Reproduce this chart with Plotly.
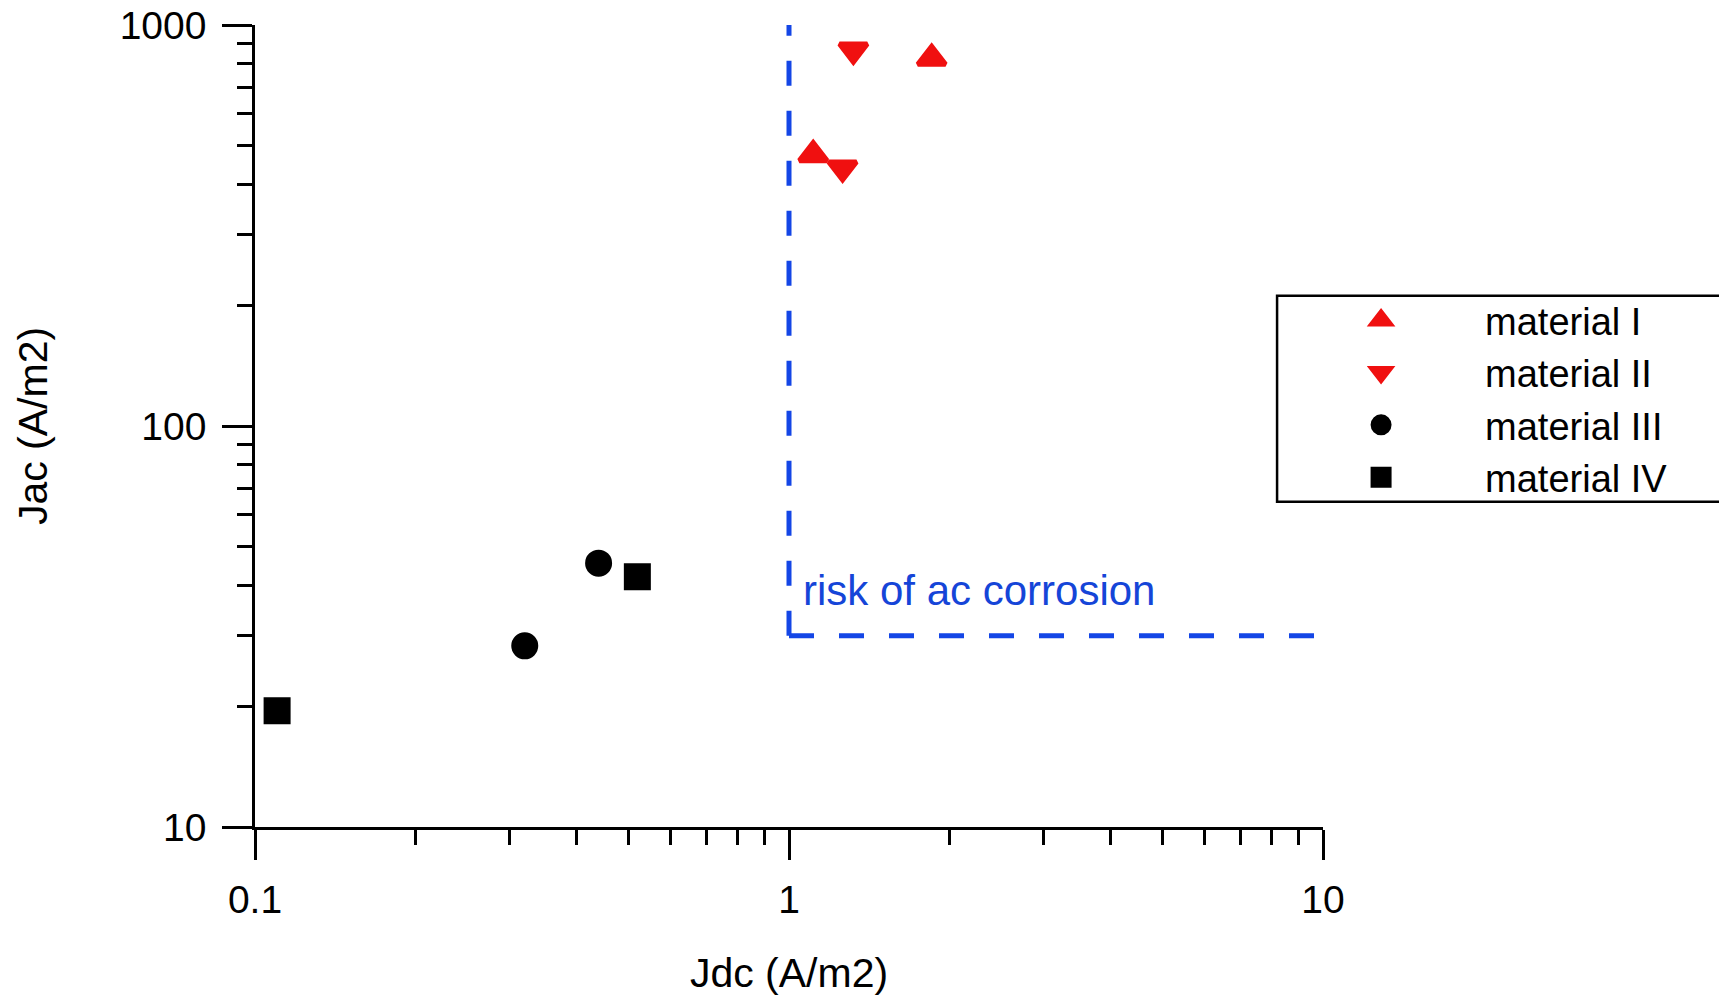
import plotly.graph_objects as go

# ---- data ----
mat1_jdc = [1.11, 1.85]
mat1_jac = [475, 826]
mat2_jdc = [1.32, 1.26]
mat2_jac = [866, 440]
mat3_jdc = [0.32, 0.44]
mat3_jac = [28.3, 45.5]
mat4_jdc = [0.11, 0.52]
mat4_jac = [19.5, 42.1]

risk_v_jdc = [1, 1]
risk_v_jac = [30, 1000]
risk_h_jdc = [1, 10]
risk_h_jac = [30, 30]

x_major = [0.1, 1, 10]
x_major_text = ["0.1", "1", "10"]
x_minor = [0.2, 0.3, 0.4, 0.5, 0.6, 0.7, 0.8, 0.9, 2, 3, 4, 5, 6, 7, 8, 9]
y_major = [10, 100, 1000]
y_major_text = ["10", "100", "1000"]
y_minor = [20, 30, 40, 50, 60, 70, 80, 90, 200, 300, 400, 500, 600, 700, 800, 900]

RED = "#f01010"
BLACK = "#000000"
BLUE = "#1446e6"
FONT = "Liberation Sans, Arial, sans-serif"

fig = go.Figure()

dash_style = dict(color=BLUE, width=5, dash="25px,25px")
fig.add_trace(go.Scatter(x=risk_v_jdc, y=risk_v_jac, mode="lines", line=dash_style,
                         showlegend=False, hoverinfo="skip"))
fig.add_trace(go.Scatter(x=risk_h_jdc, y=risk_h_jac, mode="lines", line=dash_style,
                         showlegend=False, hoverinfo="skip"))

def add_series(x, y, name, symbol, color, size):
    fig.add_trace(go.Scatter(
        x=x, y=y, mode="markers", name=name,
        marker=dict(symbol=symbol, color=color, size=size,
                    line=dict(color=color, width=5)),
    ))

add_series(mat1_jdc, mat1_jac, "material I", "triangle-up", RED, 24)
add_series(mat2_jdc, mat2_jac, "material II", "triangle-down", RED, 24)
add_series(mat3_jdc, mat3_jac, "material III", "circle", BLACK, 22)
add_series(mat4_jdc, mat4_jac, "material IV", "square", BLACK, 22)

axis_common = dict(
    type="log", showgrid=False, zeroline=False, showline=True,
    linecolor=BLACK, linewidth=2.5, ticks="outside", ticklen=30,
    tickwidth=2.5, tickcolor=BLACK, tickmode="array",
    tickfont=dict(family=FONT, size=39, color=BLACK),
    automargin=False,
)

fig.update_xaxes(
    **axis_common, range=[-1, 1], tickvals=x_major, ticktext=x_major_text,
    ticklabelstandoff=6,
    minor=dict(tickmode="array", tickvals=x_minor, ticks="outside", ticklen=15,
               tickwidth=2.5, tickcolor=BLACK, showgrid=False),
    title=dict(text="Jdc (A/m2)", font=dict(family=FONT, size=41, color=BLACK), standoff=43),
)
fig.update_yaxes(
    **axis_common, range=[1, 3], tickvals=y_major, ticktext=y_major_text,
    ticklabelstandoff=8,
    minor=dict(tickmode="array", tickvals=y_minor, ticks="outside", ticklen=15,
               tickwidth=2.5, tickcolor=BLACK, showgrid=False),
    title=dict(text="Jac (A/m2)", font=dict(family=FONT, size=41, color=BLACK), standoff=60),
)

fig.add_annotation(
    x=0, y=1.591, xref="x", yref="y", text="risk of ac corrosion",
    showarrow=False, xanchor="left", yanchor="middle", xshift=12,
    font=dict(family=FONT, size=42, color="#1545d8"),
)

# legend frame (the right side runs off the page, as in the original)
fig.add_shape(
    type="rect", xref="paper", yref="paper",
    x0=0.957, x1=1.6, y0=0.4056, y1=0.6625,
    line=dict(color=BLACK, width=2.5), fillcolor="white", layer="below",
)

fig.update_layout(
    width=1719, height=996,
    margin=dict(l=255, r=396, t=25, b=169, pad=0, autoexpand=False),
    paper_bgcolor="white", plot_bgcolor="rgba(0,0,0,0)",
    font=dict(family=FONT, color=BLACK),
    showlegend=True,
    legend=dict(
        x=0.957, y=0.671, xanchor="left", yanchor="top",
        bgcolor="rgba(0,0,0,0)", borderwidth=0,
        font=dict(family=FONT, size=38, color=BLACK),
        itemwidth=198,
        traceorder="normal",
    ),
)

fig.write_html("out.html")
